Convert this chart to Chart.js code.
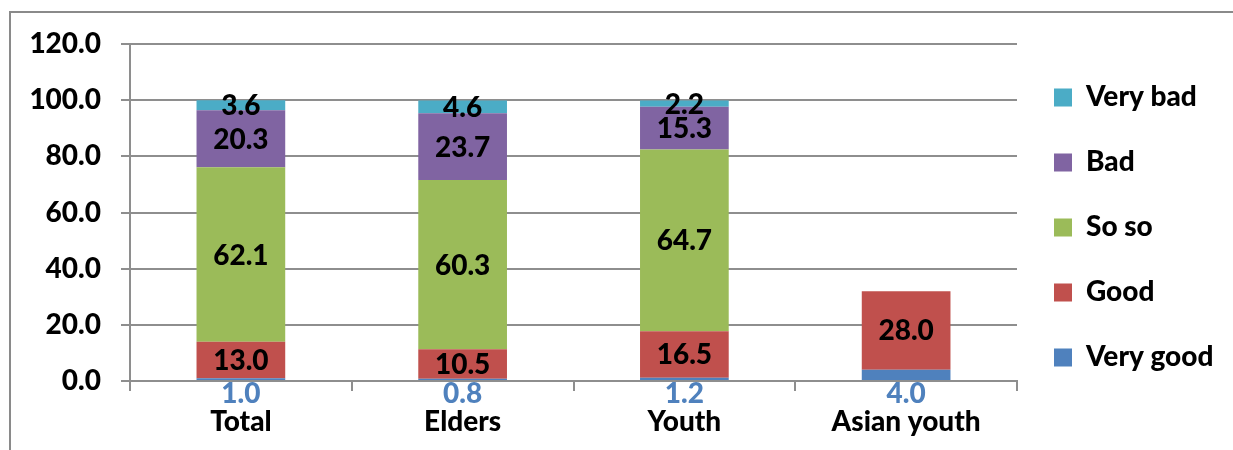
<!DOCTYPE html>
<html>
<head>
<meta charset="utf-8">
<script src="https://cdn.jsdelivr.net/npm/chart.js@4/dist/chart.umd.min.js"></script>
<style>
html,body{margin:0;padding:0;background:#fff;}
#wrap{position:relative;width:1233px;height:450px;}
</style>
</head>
<body>
<div id="wrap"><canvas id="c"></canvas></div>
<script>
// ---- data ----
const categories = ['Total', 'Elders', 'Youth', 'Asian youth'];
const seriesNames = ['Very good', 'Good', 'So so', 'Bad', 'Very bad'];
const veryGood = [1.0, 0.8, 1.2, 4.0];
const good     = [13.0, 10.5, 16.5, 28.0];
const soSo     = [62.1, 60.3, 64.7, null];
const bad      = [20.3, 23.7, 15.3, null];
const veryBad  = [3.6, 4.6, 2.2, null];
const yTicks   = [0, 20, 40, 60, 80, 100, 120];

const colors = ['#4F81BD', '#C0504D', '#9BBB59', '#8064A2', '#4BACC6'];
const seriesValues = [veryGood, good, soSo, bad, veryBad];

const FONT = 'Lato';
const FS = 28;
const FW = 900;
const GRID = '#8e8e8e';

// layout calculations
const mctx = document.createElement('canvas').getContext('2d');
mctx.font = FW + ' ' + FS + 'px ' + FONT;
const maxLabelW = Math.max(...seriesNames.map(s => mctx.measureText(s).width));
const legendPad = 65 - FS;
const legendW = legendPad + 18 + FS / 2 + maxLabelW + 10;
const plotRight = 1017;
const padRight = Math.max(0, 1233 - plotRight - legendW);
const padTop = 44, padBottom = 12, axisY = 381;

const labelPlugin = {
  id: 'segLabels',
  afterDatasetsDraw(chart) {
    const ctx = chart.ctx;
    ctx.save();
    ctx.font = FW + ' ' + FS + 'px ' + FONT;
    ctx.textAlign = 'center';
    ctx.textBaseline = 'middle';
    chart.data.datasets.forEach((ds, di) => {
      const meta = chart.getDatasetMeta(di);
      meta.data.forEach((el, i) => {
        const v = ds.data[i];
        if (v === null || v === undefined) return;
        const p = el.getProps(['x', 'y', 'base'], true);
        if (di === 0) {
          ctx.fillStyle = '#4F81BD';
          ctx.fillText(v.toFixed(1), p.x, p.base + 14);
        } else {
          ctx.fillStyle = '#000';
          ctx.fillText(v.toFixed(1), p.x, (p.y + p.base) / 2 + 1);
        }
      });
    });
    ctx.restore();
  }
};

const framePlugin = {
  id: 'frame',
  beforeDraw(chart) {
    const ctx = chart.ctx;
    ctx.save();
    ctx.fillStyle = '#fff';
    ctx.fillRect(0, 0, chart.width, chart.height);
    ctx.strokeStyle = '#8a8a8a';
    ctx.lineWidth = 2;
    ctx.strokeRect(10, 12, 1400, 600);
    ctx.restore();
  }
};

new Chart(document.getElementById('c'), {
  type: 'bar',
  data: {
    labels: categories,
    datasets: seriesNames.map((n, k) => ({
      label: n,
      data: seriesValues[k],
      backgroundColor: colors[k],
      borderWidth: 0,
      categoryPercentage: 1.0,
      barPercentage: 0.4
    }))
  },
  options: {
    responsive: true,
    maintainAspectRatio: false,
    animation: false,
    layout: { padding: { left: 10, top: padTop, bottom: padBottom, right: padRight } },
    plugins: {
      legend: {
        position: 'right',
        align: 'start',
        reverse: true,
        title: { display: true, text: ' ', padding: 0, font: { size: 2 } },
        labels: {
          boxWidth: 18,
          boxHeight: 18,
          padding: legendPad,
          color: '#000',
          font: { family: FONT, size: FS, weight: FW }
        }
      },
      tooltip: { enabled: false }
    },
    scales: {
      x: {
        stacked: true,
        afterFit(s) { s.height = 450 - padBottom - axisY; },
        grid: { drawOnChartArea: false, drawTicks: true, tickLength: 10, color: GRID, lineWidth: 2 },
        border: { display: true, color: GRID, width: 2 },
        ticks: { color: '#000', padding: 14, font: { family: FONT, size: FS, weight: FW } }
      },
      y: {
        stacked: true,
        min: yTicks[0],
        max: yTicks[yTicks.length - 1],
        afterFit(s) { s.width = 120; },
        afterBuildTicks(s) { s.ticks = yTicks.map(v => ({ value: v })); },
        grid: { color: GRID, lineWidth: 2, tickLength: 9 },
        border: { display: true, color: GRID, width: 2 },
        ticks: {
          color: '#000',
          padding: 20,
          font: { family: FONT, size: FS, weight: FW },
          callback: v => Number(v).toFixed(1)
        }
      }
    }
  },
  plugins: [framePlugin, labelPlugin]
});
</script>
</body>
</html>
